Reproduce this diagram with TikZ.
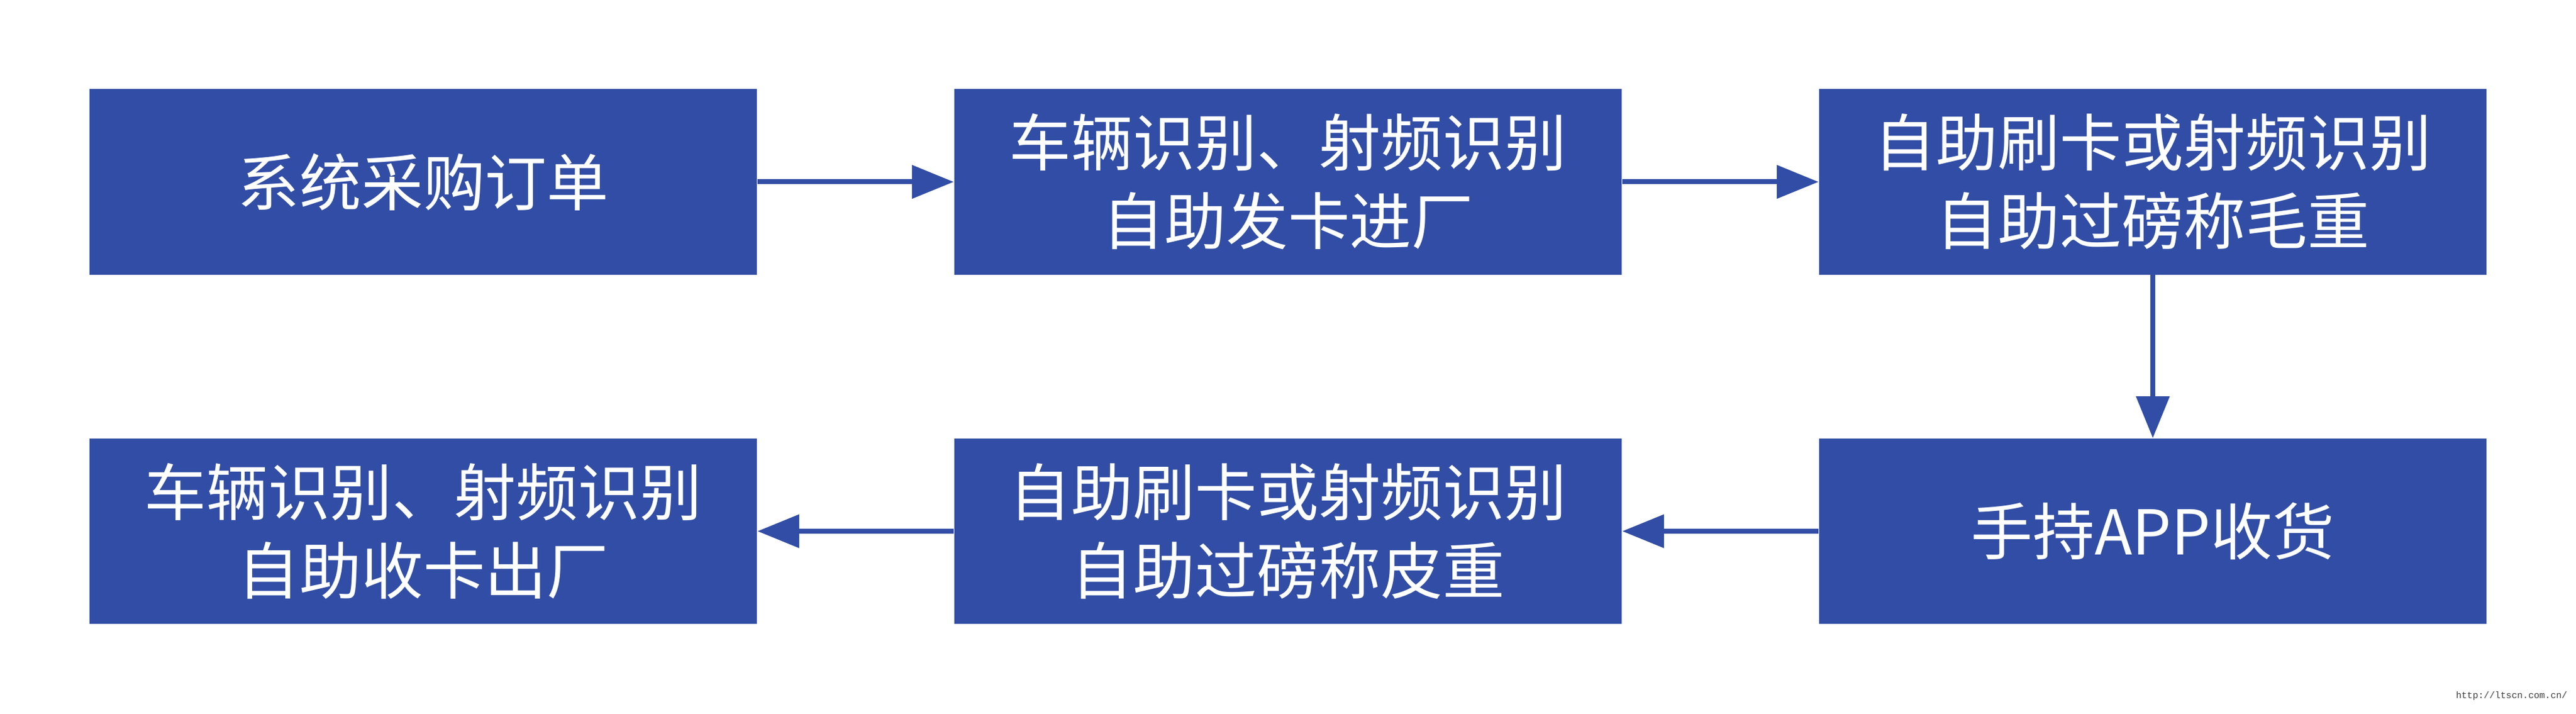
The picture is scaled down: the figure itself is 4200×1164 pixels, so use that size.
\documentclass[tikz,border=0pt]{standalone}
\usepackage{fontspec}
\setmainfont{Noto Sans CJK SC}
\newfontfamily\wmfont{Liberation Mono}
\usetikzlibrary{arrows.meta}
\definecolor{boxblue}{RGB}{49,77,165}
\tikzset{
  procbox/.style={rectangle, fill=boxblue, draw=none, text=white,
    minimum width=10.88cm, minimum height=3.02cm, inner sep=0pt, align=center,
    font=\fontsize{28.7pt}{36.4pt}\selectfont},
  flowarrow/.style={draw=boxblue, line width=0.08cm,
    -{Triangle[length=0.68cm, width=0.53cm]}}
}
\begin{document}
\begin{tikzpicture}[x=0.01cm, y=-0.01cm]
\useasboundingbox (0,0) rectangle (4200,1164);
\node[procbox] (b1) at (690,296.5) {系统采购订单};
\node[procbox] (b2) at (2100,296.5) {车辆识别、射频识别\\自助发卡进厂};
\node[procbox] (b3) at (3510,296.5) {自助刷卡或射频识别\\自助过磅称毛重};
\node[procbox] (b4) at (690,866) {车辆识别、射频识别\\自助收卡出厂};
\node[procbox] (b5) at (2100,866) {自助刷卡或射频识别\\自助过磅称皮重};
\node[procbox] (b6) at (3510,866) {手持APP收货};
\draw[flowarrow] (b1) -- (b2);
\draw[flowarrow] (b2) -- (b3);
\draw[flowarrow] (b3) -- (b6);
\draw[flowarrow] (b6) -- (b5);
\draw[flowarrow] (b5) -- (b4);
\node[font=\wmfont\fontsize{4.3pt}{5pt}\selectfont, text=black!75, inner sep=0pt] (wm) at (4095,1135) {http://ltscn.com.cn/};
\end{tikzpicture}
\end{document}
